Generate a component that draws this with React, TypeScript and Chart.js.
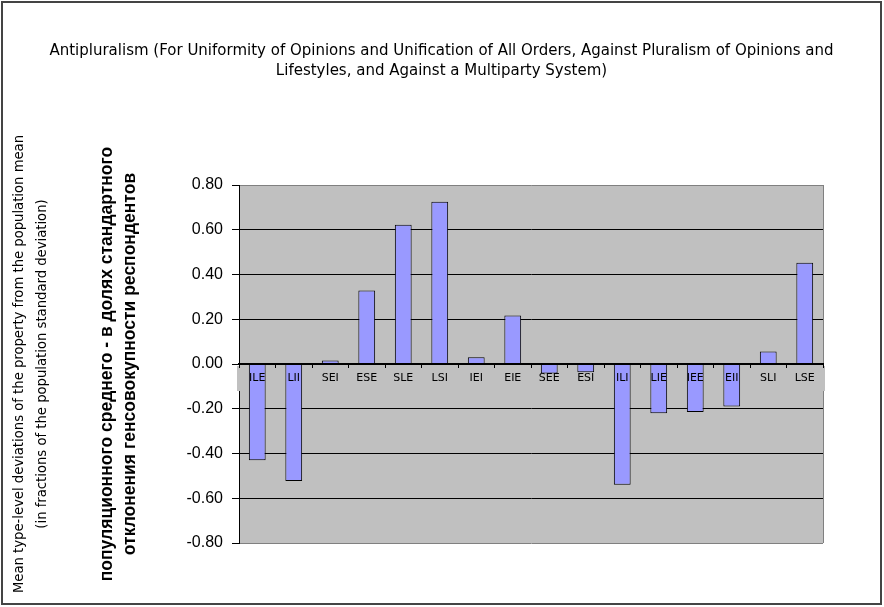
import React, { useEffect, useRef } from "react";
import { Chart, registerables } from "chart.js";

Chart.register(...registerables);

const categories = ["ILE", "LII", "SEI", "ESE", "SLE", "LSI", "IEI", "EIE", "SEE", "ESI", "ILI", "LIE", "IEE", "EII", "SLI", "LSE"];
const values = [-0.43, -0.523, 0.016, 0.328, 0.622, 0.725, 0.03, 0.217, -0.042, -0.037, -0.54, -0.22, -0.215, -0.19, 0.056, 0.453];
const titleLines = [
  "Antipluralism (For Uniformity of Opinions and Unification of All Orders, Against Pluralism of Opinions and",
  "Lifestyles, and Against a Multiparty System)",
];
const yTitleRu = ["популяционного среднего - в долях стандартного", "отклонения генсовокупности респондентов"];
const yTitleEn = [
  "Mean type-level deviations of the property from the population mean",
  "(in fractions of the population standard deviation)",
];
const yMin = -0.8;
const yMax = 0.8;
const yStep = 0.2;

const plotDecor = {
  id: "plotDecor",
  beforeDraw(chart: any) {
    const { ctx, chartArea: a } = chart;
    ctx.save();
    ctx.fillStyle = "#C0C0C0";
    ctx.fillRect(a.left, a.top, a.right - a.left, a.bottom - a.top);
    ctx.restore();
  },
  beforeDatasetsDraw(chart: any) {
    const { ctx, chartArea: a, scales } = chart;
    const y0 = scales.y.getPixelForValue(0);
    ctx.save();
    ctx.strokeStyle = "#808080";
    ctx.lineWidth = 1;
    ctx.beginPath();
    ctx.moveTo(a.right + 0.5, a.top);
    ctx.lineTo(a.right + 0.5, a.bottom);
    ctx.stroke();
    ctx.fillStyle = "#C0C0C0";
    ctx.fillRect(a.left - 2, y0 + 2, a.right - a.left + 4, 25);
    ctx.restore();
  },
};

export default function App() {
  const ref = useRef<HTMLCanvasElement>(null);
  useEffect(() => {
    if (!ref.current) return;
    const chart = new Chart(ref.current, {
      type: "bar",
      data: {
        labels: categories,
        datasets: [
          {
            data: values,
            backgroundColor: "#9999FF",
            borderColor: "#000000",
            borderWidth: 1,
            barPercentage: 0.46,
            categoryPercentage: 1,
          },
        ],
      },
      options: {
        animation: false,
        responsive: false,
        layout: { padding: { left: 0, right: 0, top: 0, bottom: 60 } },
        plugins: {
          legend: { display: false },
          tooltip: { enabled: false },
          title: {
            display: true,
            text: titleLines,
            color: "#000",
            font: { family: "DejaVu Sans", size: 15, weight: "normal", lineHeight: "20px" },
            padding: { top: 38, bottom: 104 },
          },
        },
        scales: {
          x: {
            type: "category",
            position: { y: 0 } as any,
            offset: true,
            grid: { display: true, drawOnChartArea: false, drawTicks: true, tickLength: 3, color: "#000", offset: true, z: 1 },
            border: { display: true, color: "#000", width: 2, z: 1 },
            ticks: { font: { family: "DejaVu Sans", size: 11 }, color: "#000", padding: 5, maxRotation: 0, autoSkip: false, z: 1 },
            afterFit: (s: any) => {
              s.height = 0;
            },
          },
          y: {
            position: "left",
            weight: 0,
            min: yMin,
            max: yMax,
            ticks: {
              stepSize: yStep,
              callback: (v: any) => Number(v).toFixed(2),
              font: { family: "Liberation Sans", size: 16 },
              color: "#000",
              padding: 9,
            },
            grid: {
              color: (c: any) => (c.tick && Math.abs(c.tick.value) > 0.79 ? "#808080" : "#000"),
              tickColor: "#000",
              tickLength: 7,
              lineWidth: 1,
            },
            border: { display: true, color: "#000", width: 1 },
            title: {
              display: true,
              text: yTitleRu,
              color: "#000",
              font: { family: "Liberation Sans", size: 17.5, weight: "bold", lineHeight: "23px" },
              padding: { top: 2.5, bottom: 0 },
            },
            afterFit: (s: any) => {
              s.width = 146;
            },
          },
          y2: {
            position: "left",
            weight: 1,
            min: 0,
            max: 1,
            grid: { display: false },
            ticks: { display: false },
            border: { display: false },
            title: {
              display: true,
              text: yTitleEn,
              color: "#000",
              font: { family: "DejaVu Sans", size: 13.2, weight: "normal", lineHeight: "23px" },
              padding: { top: 5.5, bottom: 0 },
            },
            afterFit: (s: any) => {
              s.width = 90;
            },
          },
          yRight: {
            position: "right",
            min: 0,
            max: 1,
            grid: { display: false },
            ticks: { display: false },
            border: { display: false },
            afterFit: (s: any) => {
              s.width = 57;
            },
          },
        },
      } as any,
      plugins: [plotDecor],
    });
    return () => chart.destroy();
  }, []);

  return (
    <div
      style={{
        position: "absolute",
        left: 0,
        top: 0,
        width: 884,
        height: 607,
        background: "#fff",
      }}
    >
      <div
        style={{
          position: "absolute",
          left: 1,
          top: 1,
          width: 881,
          height: 604,
          boxSizing: "border-box",
          border: "2px solid #444",
        }}
      >
        <canvas ref={ref} width={877} height={600} style={{ display: "block" }} />
      </div>
    </div>
  );
}
